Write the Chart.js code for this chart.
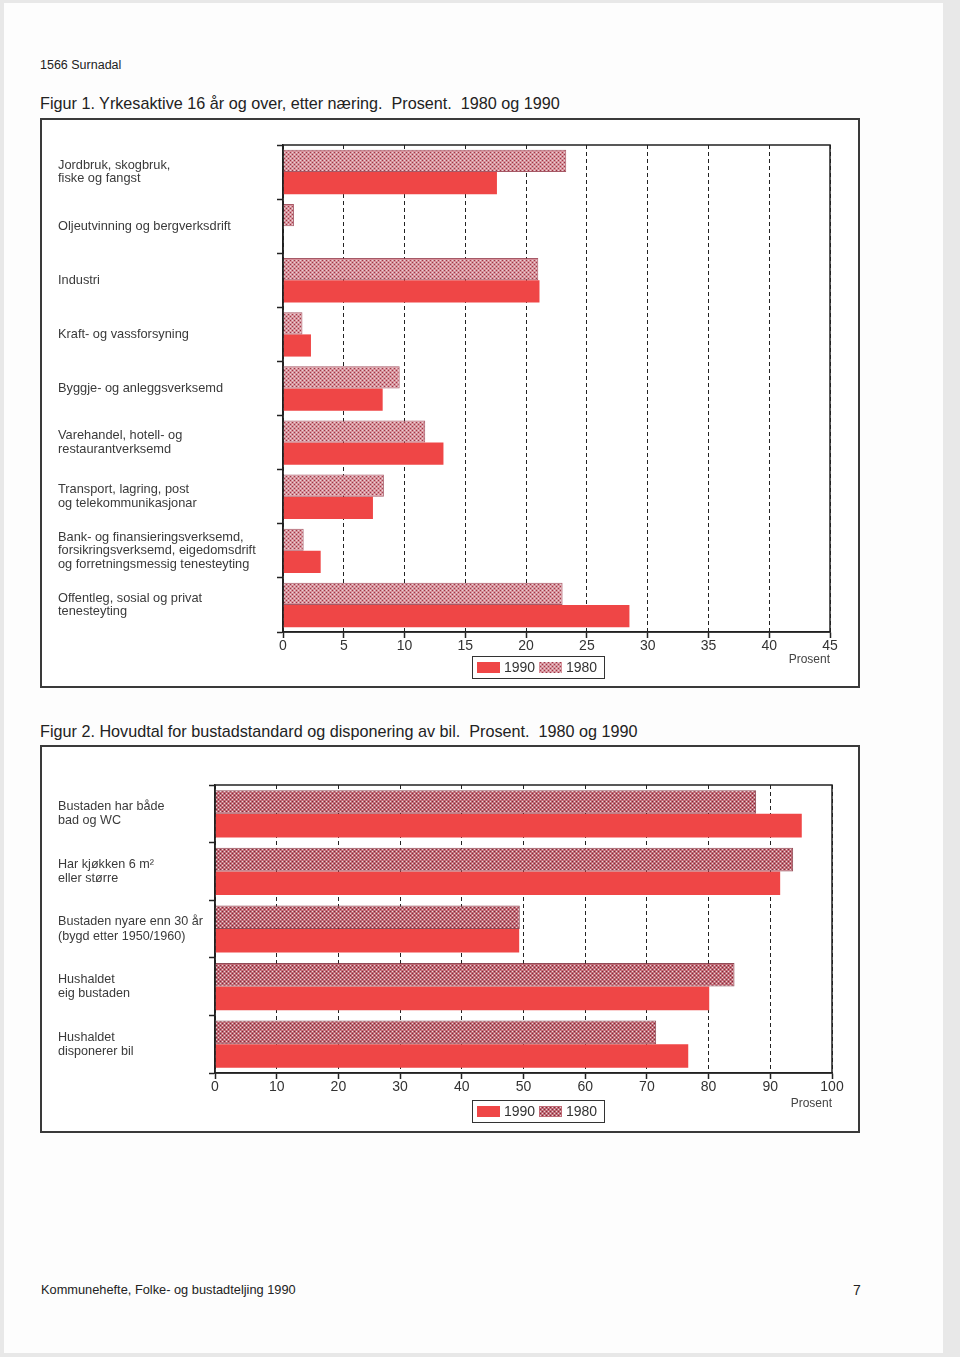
<!DOCTYPE html>
<html>
<head>
<meta charset="utf-8">
<script src="https://cdn.jsdelivr.net/npm/chart.js@4.4.0/dist/chart.umd.min.js"></script>
<style>
	body { margin: 0; width: 960px; height: 1357px; background: #e8e8e8; font-family: "Liberation Sans", Arial, sans-serif; position: relative; overflow: hidden; }
	#page { position: absolute; left: 4px; top: 3px; width: 939px; height: 1350px; background: #fdfdfd; }
	.txt { position: absolute; color: #222; white-space: nowrap; line-height: 1; }
	.box { position: absolute; border: 2px solid #3a3a3a; box-sizing: border-box; background: #fff; }
	.box canvas { position: absolute; left: 0; top: 0; }
</style>
</head>
<body>
<div id="page"></div>
<div class="txt" style="left:40px;top:59px;font-size:12.5px">1566 Surnadal</div>
<div class="txt" style="left:40px;top:95px;font-size:16.2px">Figur 1. Yrkesaktive 16 år og over, etter næring.&nbsp; Prosent.&nbsp; 1980 og 1990</div>
<div class="box" style="left:40px;top:118px;width:820px;height:570px"><canvas id="naering" width="816" height="566"></canvas></div>
<div class="txt" style="left:40px;top:723px;font-size:16.2px">Figur 2. Hovudtal for bustadstandard og disponering av bil.&nbsp; Prosent.&nbsp; 1980 og 1990</div>
<div class="box" style="left:40px;top:745px;width:820px;height:388px"><canvas id="bustad" width="816" height="384"></canvas></div>
<div class="txt" style="left:41px;top:1284px;font-size:12.8px">Kommunehefte, Folke- og bustadteljing 1990</div>
<div class="txt" style="left:853px;top:1283px;font-size:14px">7</div>
<script>
// Figur 1: yrkesaktive etter naering, prosent
const naeringLabels = [
	['Jordbruk, skogbruk,', 'fiske og fangst'],
	'Oljeutvinning og bergverksdrift',
	'Industri',
	'Kraft- og vassforsyning',
	'Byggje- og anleggsverksemd',
	['Varehandel, hotell- og', 'restaurantverksemd'],
	['Transport, lagring, post', 'og telekommunikasjonar'],
	['Bank- og finansieringsverksemd,', 'forsikringsverksemd, eigedomsdrift', 'og forretningsmessig tenesteyting'],
	['Offentleg, sosial og privat', 'tenesteyting'],
];
const naering1980 = [23.3, 0.9, 21.0, 1.6, 9.6, 11.7, 8.3, 1.7, 23.0];
const naering1990 = [17.6, 0, 21.1, 2.3, 8.2, 13.2, 7.4, 3.1, 28.5];

// Figur 2: bustadstandard og bil, prosent
const bustadLabels = [
	['Bustaden har både', 'bad og WC'],
	['Har kjøkken 6 m²', 'eller større'],
	['Bustaden nyare enn 30 år', '(bygd etter 1950/1960)'],
	['Hushaldet', 'eig bustaden'],
	['Hushaldet', 'disponerer bil'],
];
const bustad1980 = [87.7, 93.7, 49.4, 84.2, 71.5];
const bustad1990 = [95.1, 91.6, 49.3, 80.1, 76.7];

const yearLabels = ['1980', '1990'];

Chart.defaults.font.family = '"Liberation Sans", Arial, sans-serif';
Chart.defaults.animation = false;

const RED = '#ef4646';

// raster dot screen like the printed 1980 bars
function screen(ctx, base, dot, light) {
	const tile = document.createElement('canvas');
	tile.width = 4; tile.height = 4;
	const g = tile.getContext('2d');
	g.fillStyle = base; g.fillRect(0, 0, 4, 4);
	g.fillStyle = dot; g.fillRect(0, 0, 1, 1); g.fillRect(2, 2, 1, 1);
	g.fillStyle = light; g.fillRect(2, 0, 1, 1); g.fillRect(0, 2, 1, 1);
	return ctx.createPattern(tile, 'repeat');
}

// box round the plot area + the small framed legend
const frame = {
	id: 'frame',
	afterDraw(chart, args, opts) {
		const {ctx, chartArea: a} = chart;
		ctx.save();
		ctx.strokeStyle = '#222';
		ctx.lineWidth = 1.5;
		ctx.strokeRect(a.left, a.top, a.right - a.left, a.bottom - a.top);

		const x = opts.x, y = a.bottom + opts.dy, w = 132, h = 22;
		ctx.lineWidth = 1;
		ctx.strokeStyle = '#333';
		ctx.strokeRect(x + 0.5, y + 0.5, w, h);
		ctx.font = '14px "Liberation Sans", Arial, sans-serif';
		ctx.textBaseline = 'middle';
		let cx = x + 5;
		chart.data.datasets.slice().reverse().forEach(ds => {
			ctx.fillStyle = ds.backgroundColor;
			ctx.fillRect(cx, y + 6, 23, 11);
			ctx.fillStyle = '#333';
			ctx.fillText(ds.label, cx + 27, y + 12);
			cx += 62;
		});
		ctx.restore();
	},
};

function makeChart(id, labels, d1980, d1990, cfg) {
	const $elm = document.getElementById(id);
	const ctx = $elm.getContext('2d');
	return new Chart($elm, {
		type: 'bar',
		data: {
			labels: labels,
			datasets: [{
				label: yearLabels[0],
				data: d1980,
				backgroundColor: screen(ctx, cfg.base, cfg.dot, '#e2d6d8'),
				borderColor: cfg.edge,
				borderWidth: 1,
				borderSkipped: 'left',
				barPercentage: 1,
				categoryPercentage: 0.82,
			}, {
				label: yearLabels[1],
				data: d1990,
				backgroundColor: RED,
				barPercentage: 1,
				categoryPercentage: 0.82,
			}],
		},
		options: {
			indexAxis: 'y',
			responsive: false,
			layout: {padding: {left: 16, right: cfg.right, top: cfg.top, bottom: 0}},
			plugins: {
				legend: {display: false},
				tooltip: {enabled: false},
				frame: {x: 430, dy: cfg.legendDy},
			},
			scales: {
				x: {
					min: 0, max: cfg.max,
					ticks: {stepSize: cfg.step, color: '#333', font: {size: 14}, padding: 0},
					grid: {color: '#222', lineWidth: 1, tickLength: 6, tickColor: '#222', tickWidth: 1.5},
					border: {display: true, color: '#222', width: 1.5, dash: [4, 3]},
					title: {display: true, text: 'Prosent', align: 'end', color: '#444', font: {size: 12}, padding: {top: 0, bottom: cfg.titlePad}},
					afterFit: (s) => { s.height = cfg.xh; },
				},
				y: {
					ticks: {crossAlign: 'far', color: '#3a3a3a', font: {size: cfg.lab, lineHeight: cfg.lh}},
					grid: {drawOnChartArea: false, tickLength: 6, color: '#222', tickWidth: 1.5},
					border: {color: '#222', width: 1.5},
					afterFit: (s) => { s.width = cfg.yw; },
				},
			},
		},
		plugins: [frame],
	});
}

makeChart('naering', naeringLabels, naering1980, naering1990, {
	max: 45, step: 5, right: 28, top: 25, xh: 54, titlePad: 19, yw: 225,
	lab: 12.8, lh: 1.06, legendDy: 24,
	base: '#d8909a', dot: '#983a48', edge: 'rgba(150,60,75,0.85)',
});

makeChart('bustad', bustadLabels, bustad1980, bustad1990, {
	max: 100, step: 10, right: 26, top: 38, xh: 58, titlePad: 20, yw: 157,
	lab: 12.6, lh: 1.12, legendDy: 27,
	base: '#c26a76', dot: '#7a2e3a', edge: 'rgba(125,45,58,0.85)',
});
</script>
</body>
</html>
